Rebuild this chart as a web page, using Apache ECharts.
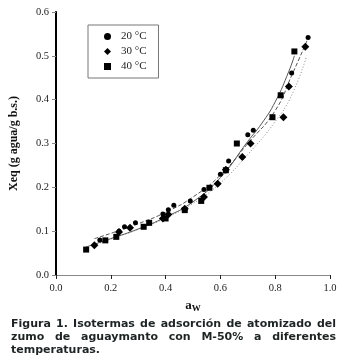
<!DOCTYPE html>
<html>
<head>
<meta charset="utf-8">
<script src="https://cdn.jsdelivr.net/npm/echarts@6/dist/echarts.min.js"></script>
<style>
html, body { margin: 0; padding: 0; background: #fff; }
#chart { width: 348px; height: 361px; }
</style>
</head>
<body>
<div id="chart"></div>
<script>
// puntos experimentales: actividad de agua (aw) y humedad de equilibrio (Xeq)
const aw20 = [0.16, 0.23, 0.25, 0.29, 0.39, 0.41, 0.43, 0.49, 0.54, 0.60, 0.63, 0.70, 0.72, 0.86, 0.92];
const xeq20 = [0.080, 0.100, 0.110, 0.119, 0.139, 0.149, 0.159, 0.169, 0.195, 0.230, 0.260, 0.320, 0.330, 0.461, 0.542];

const aw30 = [0.14, 0.23, 0.27, 0.39, 0.41, 0.47, 0.54, 0.59, 0.62, 0.68, 0.71, 0.83, 0.85, 0.91];
const xeq30 = [0.068, 0.098, 0.108, 0.129, 0.138, 0.151, 0.178, 0.208, 0.240, 0.269, 0.300, 0.360, 0.430, 0.521];

const aw40 = [0.11, 0.18, 0.22, 0.32, 0.34, 0.40, 0.47, 0.53, 0.56, 0.62, 0.66, 0.79, 0.82, 0.87];
const xeq40 = [0.058, 0.079, 0.087, 0.110, 0.119, 0.129, 0.148, 0.169, 0.199, 0.239, 0.300, 0.360, 0.410, 0.510];

// curvas de ajuste
const fitAw20 = [0.14, 0.20, 0.30, 0.40, 0.50, 0.60, 0.70, 0.80, 0.86, 0.92];
const fitX20 = [0.083, 0.095, 0.117, 0.143, 0.178, 0.228, 0.300, 0.375, 0.455, 0.540];
const fitAw30 = [0.14, 0.20, 0.30, 0.40, 0.50, 0.60, 0.70, 0.80, 0.86, 0.915];
const fitX30 = [0.068, 0.082, 0.104, 0.130, 0.163, 0.210, 0.275, 0.350, 0.410, 0.500];
const fitAw40 = [0.11, 0.20, 0.30, 0.40, 0.50, 0.60, 0.70, 0.75, 0.80, 0.85, 0.87];
const fitX40 = [0.064, 0.083, 0.105, 0.132, 0.167, 0.222, 0.305, 0.345, 0.395, 0.465, 0.500];

const legendNames = ['20 °C', '30 °C', '40 °C'];

const captionLines = [
  'Figura 1. Isotermas de adsorción de atomizado del',
  'zumo de aguaymanto con M-50% a diferentes',
  'temperaturas.'
];

const pairs = (xs, ys) => xs.map((x, i) => [x, ys[i]]);

// texto justificado del pie de figura
const capFont = 'bold 11px "DejaVu Sans"';
const ctx = document.createElement('canvas').getContext('2d');
ctx.font = capFont;
function captionWords(line, y, last) {
  const x0 = 11, x1 = 336;
  const words = line.split(' ');
  const widths = words.map(w => ctx.measureText(w).width);
  const total = widths.reduce((a, b) => a + b, 0);
  const gap = last ? ctx.measureText(' ').width : (x1 - x0 - total) / (words.length - 1);
  let x = x0;
  return words.map((w, i) => {
    const el = {
      type: 'text', x: x, y: y,
      style: { text: w, font: capFont, fill: '#1e2424', verticalAlign: 'middle' }
    };
    x += widths[i] + gap;
    return el;
  });
}

const serif = '"Liberation Serif", "Times New Roman", serif';
const labelStyle = { color: '#222', fontFamily: serif, fontSize: 10.5 };
const mark = { color: '#000', opacity: 1 };

const chart = echarts.init(document.getElementById('chart'));
chart.setOption({
  animation: false,
  backgroundColor: '#fff',
  grid: { left: 55, right: 18, top: 12, bottom: 86 },
  legend: {
    data: legendNames,
    orient: 'vertical',
    left: 88, top: 25,
    padding: [6, 12, 6, 16],
    itemGap: 4,
    itemWidth: 7, itemHeight: 7,
    borderColor: '#777', borderWidth: 1,
    textStyle: { color: '#222', fontFamily: serif, fontSize: 11, padding: [0, 0, 0, 5] }
  },
  xAxis: [{
    type: 'value', min: 0, max: 1, interval: 0.2,
    name: '{a|a}{w|W}',
    nameLocation: 'middle', nameGap: 19,
    nameTextStyle: {
      rich: {
        a: { fontFamily: serif, fontWeight: 'bold', fontSize: 13, color: '#111' },
        w: { fontFamily: serif, fontWeight: 'bold', fontSize: 9, color: '#111', padding: [7, 0, 0, 0] }
      }
    },
    axisLine: { lineStyle: { color: '#222', width: 1 } },
    axisTick: { show: true, length: 4, lineStyle: { color: '#222' } },
    axisLabel: Object.assign({ margin: 8, formatter: v => v.toFixed(1) }, labelStyle),
    splitLine: { show: false }
  }, {
    type: 'value', position: 'top', min: 0, max: 1,
    axisLine: { show: true, lineStyle: { color: '#888', width: 1 } },
    axisTick: { show: false }, axisLabel: { show: false }, splitLine: { show: false }
  }],
  yAxis: [{
    type: 'value', min: 0, max: 0.6, interval: 0.1,
    name: 'Xeq (g agua/g b.s.)',
    nameLocation: 'middle', nameGap: 36, nameRotate: 90,
    nameTextStyle: { fontFamily: serif, fontWeight: 'bold', fontSize: 12, color: '#111' },
    axisLine: { show: true, lineStyle: { color: '#888', width: 1 } },
    axisTick: { show: true, length: 4, lineStyle: { color: '#888' } },
    axisLabel: Object.assign({ margin: 7, formatter: v => v.toFixed(1) }, labelStyle),
    splitLine: { show: false }
  }, {
    type: 'value', position: 'right', min: 0, max: 0.6,
    axisLine: { show: true, lineStyle: { color: '#000', width: 2 } },
    axisTick: { show: false }, axisLabel: { show: false }, splitLine: { show: false }
  }],
  series: [
    { name: 'ajuste 20', type: 'line', data: pairs(fitAw20, fitX20), smooth: true, showSymbol: false,
      lineStyle: { color: '#555', width: 1, type: [4, 2] }, z: 1 },
    { name: 'ajuste 30', type: 'line', data: pairs(fitAw30, fitX30), smooth: true, showSymbol: false,
      lineStyle: { color: '#888', width: 1, type: [1, 2] }, z: 1 },
    { name: 'ajuste 40', type: 'line', data: pairs(fitAw40, fitX40), smooth: true, showSymbol: false,
      lineStyle: { color: '#555', width: 1, type: 'solid' }, z: 1 },
    { name: legendNames[0], type: 'scatter', data: pairs(aw20, xeq20), symbol: 'circle', symbolSize: 5,
      itemStyle: mark, z: 3 },
    { name: legendNames[1], type: 'scatter', data: pairs(aw30, xeq30), symbol: 'diamond', symbolSize: 8,
      itemStyle: mark, z: 3 },
    { name: legendNames[2], type: 'scatter', data: pairs(aw40, xeq40), symbol: 'rect', symbolSize: 6,
      itemStyle: mark, z: 3 }
  ],
  graphic: [].concat(
    captionWords(captionLines[0], 324, false),
    captionWords(captionLines[1], 337, false),
    captionWords(captionLines[2], 350, true)
  )
});
</script>
</body>
</html>
